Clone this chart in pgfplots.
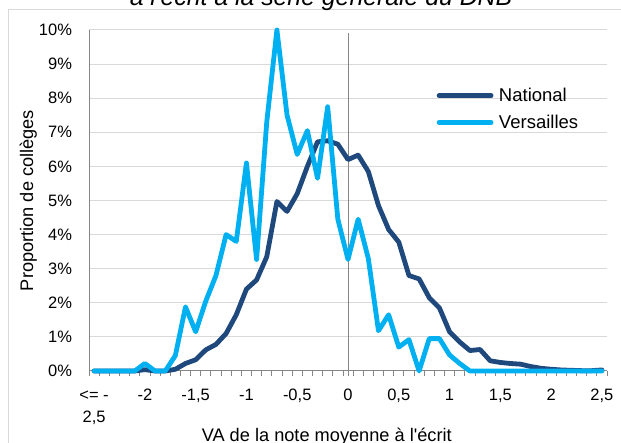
\documentclass[border=0pt]{standalone}
\usepackage{fontspec}
\setmainfont{Liberation Sans}[Ligatures=TeXOff]
\usepackage{pgfplots}
\usepackage{pgfplotstable}
\pgfplotsset{compat=1.18}
\definecolor{natblue}{RGB}{31,73,125}
\definecolor{versblue}{RGB}{0,176,240}
\definecolor{gridgray}{RGB}{217,217,217}
\definecolor{axisgray}{RGB}{134,134,134}

\pgfplotstableread{
x y
-2.5 0
-2.4 0
-2.3 0
-2.2 0
-2.1 0
-2.0 0.04
-1.9 0
-1.8 0
-1.7 0.05
-1.6 0.22
-1.5 0.33
-1.4 0.62
-1.3 0.78
-1.2 1.1
-1.1 1.65
-1.0 2.4
-0.9 2.67
-0.8 3.35
-0.7 4.97
-0.6 4.68
-0.5 5.2
-0.4 6.0
-0.3 6.72
-0.2 6.75
-0.1 6.65
0.0 6.2
0.1 6.33
0.2 5.85
0.3 4.85
0.4 4.15
0.5 3.78
0.6 2.8
0.7 2.7
0.8 2.15
0.9 1.85
1.0 1.15
1.1 0.85
1.2 0.6
1.3 0.63
1.4 0.3
1.5 0.25
1.6 0.22
1.7 0.2
1.8 0.13
1.9 0.08
2.0 0.05
2.1 0.03
2.2 0.02
2.3 0.01
2.4 0.01
2.5 0.03
}\national

\pgfplotstableread{
x y
-2.5 0
-2.4 0
-2.3 0
-2.2 0
-2.1 0
-2.0 0.22
-1.9 0
-1.8 0
-1.7 0.45
-1.6 1.88
-1.5 1.15
-1.4 2.05
-1.3 2.8
-1.2 4.0
-1.1 3.8
-1.0 6.1
-0.9 3.27
-0.8 7.3
-0.7 10.0
-0.6 7.5
-0.5 6.35
-0.4 7.05
-0.3 5.65
-0.2 7.75
-0.1 4.45
0.0 3.27
0.1 4.45
0.2 3.3
0.3 1.18
0.4 1.65
0.5 0.7
0.6 0.92
0.7 0
0.8 0.95
0.9 0.95
1.0 0.47
1.1 0.22
1.2 0
1.3 0
1.4 0
1.5 0
1.6 0
1.7 0
1.8 0
1.9 0
2.0 0
2.1 0
2.2 0
2.3 0
2.4 0
2.5 0
}\versailles

\begin{document}
\begin{tikzpicture}[x=1bp,y=1bp]
\useasboundingbox (0,0) rectangle (621,443);
\draw[gridgray, line width=1.5bp] (8.5,-20) -- (8.5,433.5) -- (640,433.5);
\node[font=\fontsize{24.8bp}{28bp}\selectfont\itshape, anchor=base] at (321,437) {à l'écrit à la série générale du DNB};
\begin{axis}[
  at={(89bp,72bp)}, anchor=south west,
  scale only axis, width=518bp, height=341bp,
  xmin=-2.55, xmax=2.55, ymin=0, ymax=10,
  clip=false,
  axis lines*=left,
  axis line style={axisgray, line width=1bp},
  /pgf/number format/assume math mode=true,
  ytick={0,1,...,10},
  yticklabel={\pgfmathprintnumber{\tick}\%},
  yticklabel style={font=\fontsize{16.5bp}{19bp}\selectfont, anchor=east, xshift=-13.5bp},
  ymajorgrids,
  grid style={gridgray, line width=1bp},
  xtick={-2.5,-2,-1.5,-1,-0.5,0,0.5,1,1.5,2,2.5},
  xticklabels={{\strut <= -\\\strut 2,5},{\strut -2},{\strut -1,5},{\strut -1},{\strut -0,5},{\strut 0},{\strut 0,5},{\strut 1},{\strut 1,5},{\strut 2},{\strut 2,5}},
  xticklabel style={font=\fontsize{16.5bp}{22bp}\selectfont, align=center, anchor=north, yshift=-11bp},
  minor xtick={-2.55,-2.45,...,2.56},
  major tick length=0pt,
  minor tick length=5bp,
  tick align=outside,
  minor tick style={axisgray, line width=0.8bp},
  xlabel={VA de la note moyenne à l'écrit},
  xlabel style={at={(axis description cs:0.459,-0.2053)}, anchor=base, font=\fontsize{18.2bp}{21bp}\selectfont},
  ylabel={Proportion de collèges},
  ylabel style={at={(axis description cs:-0.1081,0.5)}, anchor=base, font=\fontsize{18.2bp}{21bp}\selectfont},
  legend style={draw=none, fill=none, at={(axis description cs:0.6708,0.830)}, anchor=north west,
    font=\fontsize{18.5bp}{21bp}\selectfont, inner sep=0pt, row sep=12bp, column sep=5.5bp,
    nodes={inner sep=0pt, outer sep=0pt}},
  legend cell align=left,
  legend image code/.code={\draw[#1, line width=4.8bp, line cap=round] (0bp,0bp) -- (52bp,0bp);},
]
\draw[axisgray, line width=0.8bp] (axis cs:0,9.9) -- (axis cs:0,-0.15);
\addplot[natblue, line width=4.8bp, line join=round, line cap=round] table[x=x,y=y] {\national};
\addlegendentry{National}
\addplot[versblue, line width=4.8bp, line join=round, line cap=round] table[x=x,y=y] {\versailles};
\addlegendentry{Versailles}
\end{axis}
\end{tikzpicture}
\end{document}
